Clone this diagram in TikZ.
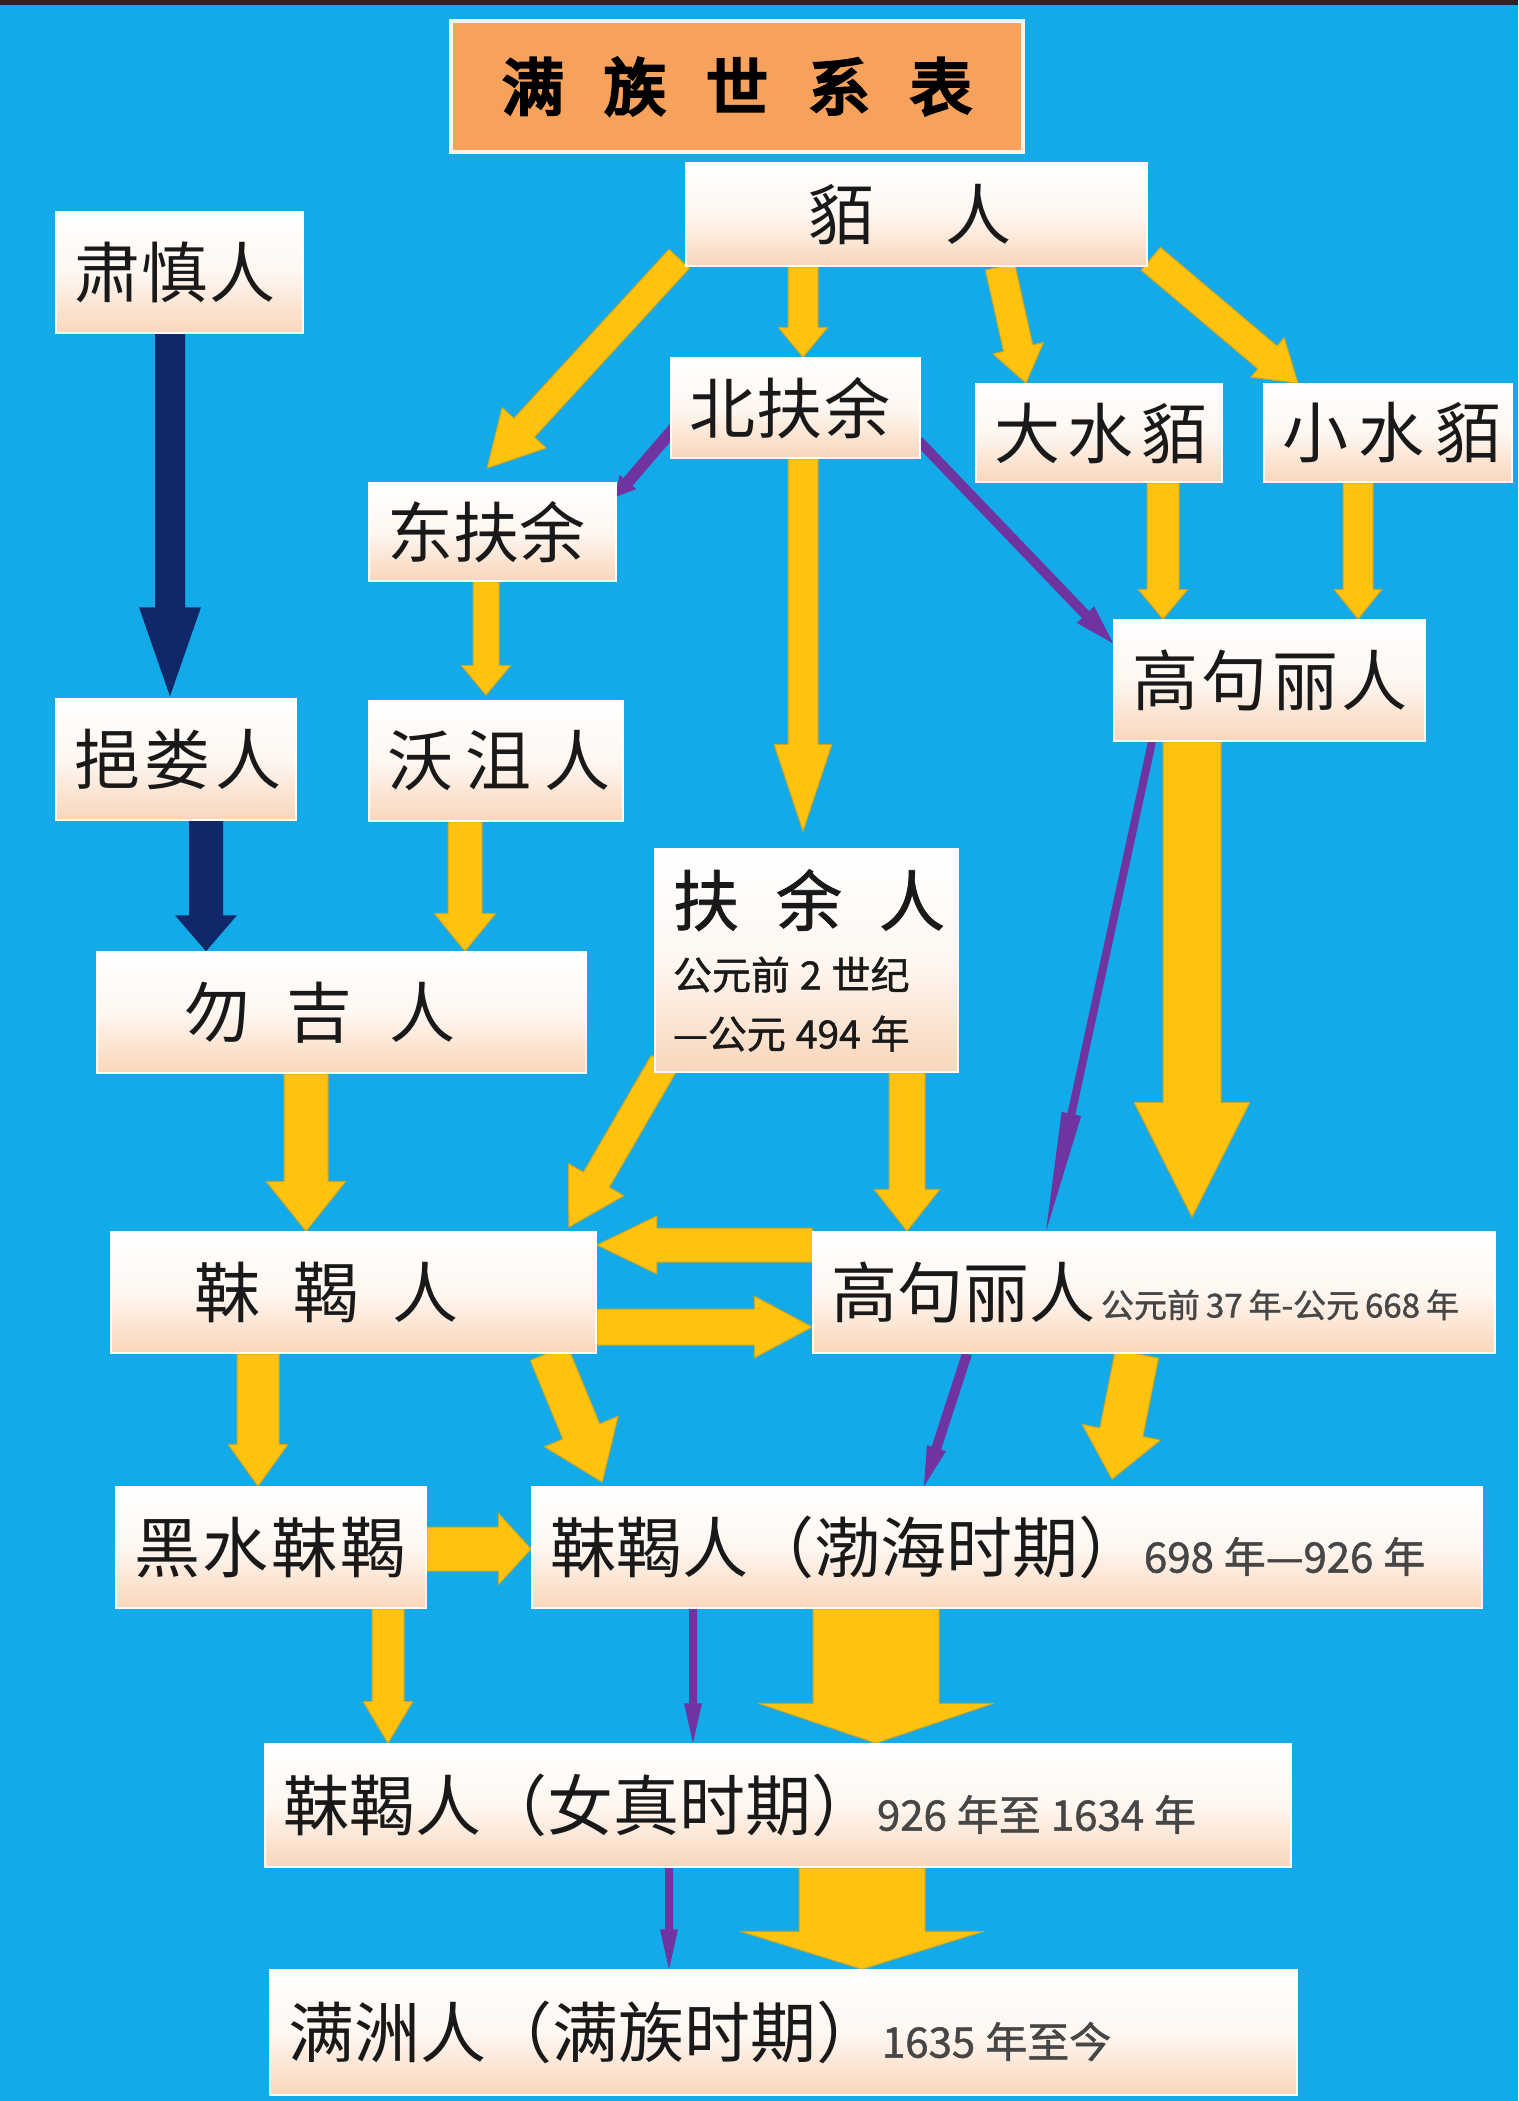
\documentclass[tikz,border=0pt]{standalone}
\usepackage{fontspec}
\setmainfont{Noto Sans CJK SC}
\newfontfamily\titlef{Noto Sans CJK SC}[FakeBold=5]
\newfontfamily\datefam{Noto Sans CJK SC}[FakeBold=1.2]
\usetikzlibrary{calc}
\definecolor{bgblue}{RGB}{18,170,232}
\definecolor{ygold}{RGB}{255,194,14}
\definecolor{yedge}{RGB}{200,165,40}
\definecolor{purp}{RGB}{112,52,160}
\definecolor{navy}{RGB}{16,40,106}
\definecolor{peach}{RGB}{249,214,186}
\definecolor{orangebox}{RGB}{246,162,92}
\definecolor{txt}{RGB}{25,25,25}
\definecolor{dtxt}{RGB}{70,70,70}
\newcommand\labf{\fontsize{66}{80}\selectfont}
\newcommand\datf{\datefam\fontsize{42}{59}\selectfont\color{dtxt}}
\newcommand\datfy{\datefam\fontsize{39}{59}\selectfont\color{dtxt}}
\newcommand\datg{\datefam\fontsize{33}{40}\selectfont\color{dtxt}}
\newcommand\tsp{\hspace{10pt}}
% #1 style, #2 start, #3 end, #4 stem half width, #5 head half width, #6 head length
\newcommand\blockarr[6]{%
  \path[#1] let \p1=(#2), \p2=(#3), \n1={atan2(\y2-\y1,\x2-\x1)}, \n2={veclen(\x2-\x1,\y2-\y1)} in
  [shift={(\p1)}, rotate=\n1]
  (0,-#4) -- ({\n2-#6},-#4) -- ({\n2-#6},-#5) -- (\n2,0) -- ({\n2-#6},#5) -- ({\n2-#6},#4) -- (0,#4) -- cycle;}
\pgfdeclarelayer{back}
\pgfdeclarelayer{arrows}
\pgfsetlayers{back,arrows,main}
\begin{document}
\begin{tikzpicture}[x=1pt,y=-1pt,
  box/.style={rectangle, draw=white!92!peach, line width=1.5pt, top color=white, bottom color=peach, middle color=white!80!peach, inner xsep=18pt, inner ysep=0pt, align=left, font=\labf, text=txt},
  yst/.style={fill=ygold, draw=yedge, line width=1pt, line join=round},
  pst/.style={fill=purp},
  nst/.style={fill=navy}]
\useasboundingbox (0,0) rectangle (1518,2101);
\begin{pgfonlayer}{back}
\fill[bgblue] (0,0) rectangle (1518,2101);
\fill[black!85] (0,0) rectangle (1518,5);
\end{pgfonlayer}

\node[draw=white!85!orangebox, line width=4pt, fill=orangebox, minimum width=572pt, minimum height=131pt, inner sep=0pt, font=\titlef\fontsize{62}{70}\selectfont] (title) at (737,86.5) {\mbox{满\hspace{40pt}族\hspace{40pt}世\hspace{40pt}系\hspace{40pt}表}};

\node[box, text width=425pt, minimum height=103pt] (mo) at (916.5,214.5) {\mbox{\hspace*{104pt}貊\hspace{72pt}人}};
\node[box, text width=211pt, minimum height=121pt] (sushen) at (179.5,272.5) {\mbox{肃\hspace{2pt}慎\hspace{2pt}人}};
\node[box, text width=213pt, minimum height=100pt] (beifuyu) at (795.5,408) {\mbox{北\hspace{2pt}扶\hspace{2pt}余}};
\node[box, text width=210pt, minimum height=98pt] (dashui) at (1099,433) {\mbox{大\hspace{8pt}水\hspace{8pt}貊}};
\node[box, text width=212pt, minimum height=98pt] (xiaoshui) at (1388,433) {\mbox{小\hspace{11pt}水\hspace{11pt}貊}};
\node[box, text width=211pt, minimum height=98pt] (dongfuyu) at (492.5,532) {\mbox{东扶余}};
\node[box, text width=275pt, minimum height=121pt] (gg1) at (1269.5,680.5) {\mbox{高\hspace{4pt}句\hspace{4pt}丽\hspace{4pt}人}};
\node[box, text width=204pt, minimum height=121pt] (yilou) at (176,759.5) {\mbox{挹\hspace{5pt}娄\hspace{5pt}人}};
\node[box, text width=218pt, minimum height=120pt] (woju) at (496,761) {\mbox{沃\hspace{13pt}沮\hspace{13pt}人}};
\node[box, text width=267pt, minimum height=223pt, font=\datfy] (fuyu) at (806.5,960.5) {{\labf\color{txt}\mbox{扶\hspace{37pt}余\hspace{37pt}人}}\\[5pt]\mbox{公元前\tsp 2\tsp 世纪}\\\mbox{—公元\tsp 494\tsp 年}};
\node[box, text width=453pt, minimum height=121pt] (wuji) at (341.5,1012.5) {\mbox{\hspace*{69pt}勿\hspace{37pt}吉\hspace{37pt}人}};
\node[box, text width=449pt, minimum height=121pt] (mohe) at (353.5,1292.5) {\mbox{\hspace*{65pt}靺\hspace{33pt}鞨\hspace{33pt}人}};
\node[box, text width=646pt, minimum height=121pt] (gg2) at (1154,1292.5) {\mbox{高句丽人{\datg\hspace{6pt}公元前\hspace{6pt}37\hspace{6pt}年-公元\hspace{6pt}668\hspace{6pt}年}}};
\node[box, text width=274pt, minimum height=121pt] (heishui) at (271,1547.5) {\mbox{黑\hspace{3pt}水\hspace{3pt}靺\hspace{3pt}鞨}};
\node[box, text width=914pt, minimum height=121pt] (bohai) at (1007,1547.5) {\mbox{靺鞨人（渤海时期）{\datf 698\tsp 年—926\tsp 年}}};
\node[box, text width=990pt, minimum height=123pt] (nvzhen) at (778,1805.5) {\mbox{靺鞨人（女真时期）{\datf 926\tsp 年至\tsp 1634\tsp 年}}};
\node[box, text width=991pt, minimum height=125pt] (manzhou) at (783.5,2032.5) {\mbox{满洲人（满族时期）{\datf 1635\tsp 年至今}}};

\begin{pgfonlayer}{arrows}
% yellow arrows
\blockarr{yst}{$(mo.south west)+(-6,-8)$}{$(dongfuyu.north)+(-5.5,-14)$}{14}{30}{55}
\blockarr{yst}{803,0 |- mo.south}{803,0 |- beifuyu.north}{15}{25}{30}
\blockarr{yst}{1000,0 |- mo.south}{1026,0 |- dashui.north}{15}{26}{36}
\blockarr{yst}{$(mo.south east)+(3,-8)$}{1298,0 |- xiaoshui.north}{15}{26}{40}
\blockarr{yst}{1163,0 |- dashui.south}{1163,0 |- gg1.north}{16}{25}{30}
\blockarr{yst}{1358,0 |- xiaoshui.south}{1358,0 |- gg1.north}{15}{24}{30}
\blockarr{yst}{803,0 |- beifuyu.south}{$(803,0 |- fuyu.north)+(0,-17)$}{15}{29}{87}
\blockarr{yst}{486,0 |- dongfuyu.south}{$(486,0 |- woju.north)+(0,-5)$}{13}{25}{30}
\blockarr{yst}{465,0 |- woju.south}{465,0 |- wuji.north}{17}{31}{38}
\blockarr{yst}{306,0 |- wuji.south}{306,0 |- mohe.north}{22}{40}{50}
\blockarr{yst}{$(fuyu.south west)+(10,-10)$}{$(mohe.north east)+(-28,-4)$}{15}{32}{55}
\blockarr{yst}{907,0 |- fuyu.south}{907,0 |- gg2.north}{18}{33}{42}
\blockarr{yst}{gg2.west |- 0,1245}{mohe.east |- 0,1245}{17}{29}{60}
\blockarr{yst}{mohe.east |- 0,1327}{gg2.west |- 0,1327}{18}{31}{58}
\blockarr{yst}{258,0 |- mohe.south}{258,0 |- heishui.north}{21}{30}{42}
\blockarr{yst}{$(mohe.south east)+(-48,-1)$}{$(bohai.north west)+(71,-4)$}{20}{40}{55}
\blockarr{yst}{1137,0 |- gg2.south}{$(1112,0 |- bohai.north)+(0,-7)$}{22}{40}{48}
\blockarr{yst}{heishui.east |- 0,1549}{bohai.west |- 0,1549}{22}{36}{33}
\blockarr{yst}{388,0 |- heishui.south}{388,0 |- nvzhen.north}{16}{25}{42}
\blockarr{yst}{1192,0 |- gg1.south}{$(1192,0 |- gg2.north)+(0,-14)$}{29}{58}{115}
\blockarr{yst}{876,0 |- bohai.south}{876,0 |- nvzhen.north}{63}{118}{40}
\blockarr{yst}{862,0 |- nvzhen.south}{862,0 |- manzhou.north}{63}{122}{38}
% purple arrows
\blockarr{pst}{$(beifuyu.west)+(4,20)$}{$(dongfuyu.north east)+(-2,15)$}{6}{11}{20}
\blockarr{pst}{$(beifuyu.south east)+(-2,-18)$}{$(gg1.west)+(0,-37)$}{5}{12}{40}
\blockarr{pst}{1152,0 |- gg1.south}{1046,0 |- gg2.north}{4}{10}{120}
\blockarr{pst}{967,0 |- gg2.south}{924,0 |- bohai.north}{5}{10}{40}
\blockarr{pst}{693,0 |- bohai.south}{693,0 |- nvzhen.north}{4}{9}{40}
\blockarr{pst}{669,0 |- nvzhen.south}{669,0 |- manzhou.north}{4}{9}{40}
% navy arrows
\blockarr{nst}{170,0 |- sushen.south}{$(170,0 |- yilou.north)+(0,-2)$}{15}{31}{89}
\blockarr{nst}{206,0 |- yilou.south}{206,0 |- wuji.north}{17}{31}{36}
\end{pgfonlayer}
\end{tikzpicture}
\end{document}
